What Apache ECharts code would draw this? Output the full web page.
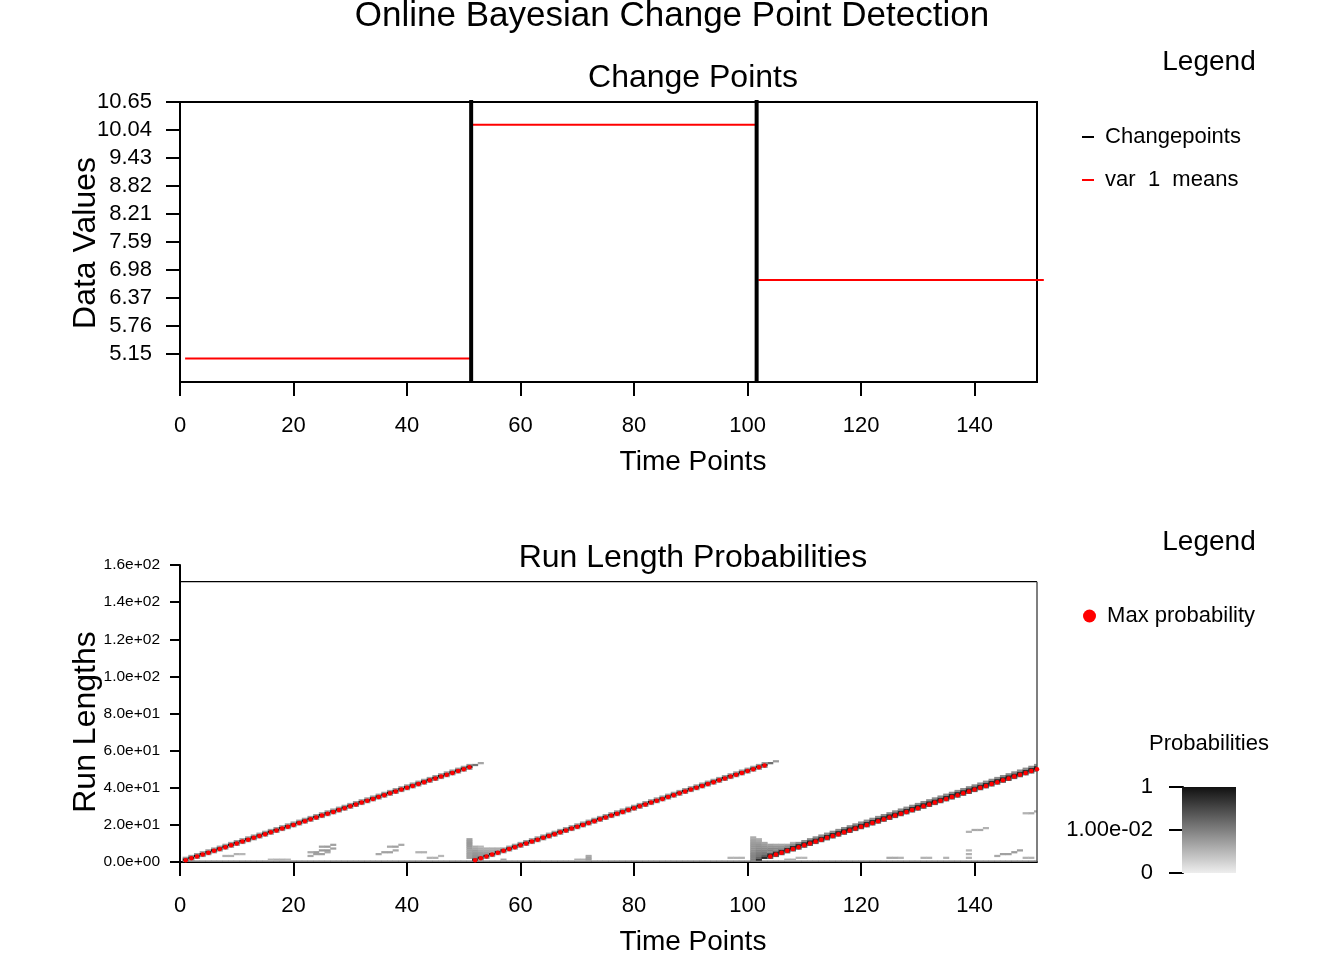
<!DOCTYPE html>
<html><head><meta charset="utf-8">
<script src="https://cdn.jsdelivr.net/npm/echarts@6/dist/echarts.min.js"></script>
<style>html,body{margin:0;padding:0;background:#fff;overflow:hidden}#c{width:1344px;height:960px}</style>
</head><body><div id="c"></div>
<script>
// ---------- data ----------
const timeTicks = [0, 20, 40, 60, 80, 100, 120, 140];
const timeMax = 151;

const dataValueTicks = ['5.15', '5.76', '6.37', '6.98', '7.59', '8.21', '8.82', '9.43', '10.04', '10.65'];
const dataValueMin = 4.5389;
const dataValueMax = 10.65;

const changePoints = [51.3, 101.6];
const meanStarts = [0.9, 51.6, 101.9];
const meanEnds = [51.3, 101.4, 152.2];
const meanValues = [5.05, 10.155, 6.763];

const runLengthTicks = [0, 20, 40, 60, 80, 100, 120, 140, 160];
const runLengthTickLabels = ['0.0e+00', '2.0e+01', '4.0e+01', '6.0e+01', '8.0e+01', '1.0e+02', '1.2e+02', '1.4e+02', '1.6e+02'];
const runLengthAxisMax = 160;
const runLengthMax = 151;

const colorbarTicks = [0, 0.5, 1];
const colorbarTickLabels = ['0', '1.00e-02', '1'];
const probLogMin = -4;

// run length with max probability, for time points 1..151
const maxRunLength = [
  1, 2, 3, 4, 5, 6, 7, 8, 9, 10,
  11, 12, 13, 14, 15, 16, 17, 18, 19, 20,
  21, 22, 23, 24, 25, 26, 27, 28, 29, 30,
  31, 32, 33, 34, 35, 36, 37, 38, 39, 40,
  41, 42, 43, 44, 45, 46, 47, 48, 49, 50,
  51,
  1, 2, 3, 4, 5, 6, 7, 8, 9, 10,
  11, 12, 13, 14, 15, 16, 17, 18, 19, 20,
  21, 22, 23, 24, 25, 26, 27, 28, 29, 30,
  31, 32, 33, 34, 35, 36, 37, 38, 39, 40,
  41, 42, 43, 44, 45, 46, 47, 48, 49, 50,
  51, 52,
  3, 4, 5, 6, 7, 8, 9, 10, 11, 12,
  13, 14, 15, 16, 17, 18, 19, 20, 21, 22,
  23, 24, 25, 26, 27, 28, 29, 30, 31, 32,
  33, 34, 35, 36, 37, 38, 39, 40, 41, 42,
  43, 44, 45, 46, 47, 48, 49, 50
];
// probability of that run length
const maxRunProb = [
  0.97, 0.97, 0.97, 0.97, 0.97, 0.97, 0.97, 0.97, 0.97, 0.97,
  0.97, 0.97, 0.97, 0.97, 0.97, 0.97, 0.97, 0.97, 0.97, 0.97,
  0.97, 0.97, 0.97, 0.97, 0.97, 0.97, 0.97, 0.97, 0.97, 0.97,
  0.97, 0.97, 0.97, 0.97, 0.97, 0.97, 0.97, 0.97, 0.97, 0.97,
  0.97, 0.97, 0.97, 0.97, 0.97, 0.97, 0.97, 0.97, 0.97, 0.97,
  0.9,
  0.6, 0.7, 0.8, 0.85, 0.9, 0.95, 0.95, 0.95, 0.95, 0.95,
  0.95, 0.95, 0.95, 0.95, 0.95, 0.95, 0.95, 0.95, 0.95, 0.95,
  0.95, 0.95, 0.95, 0.95, 0.95, 0.95, 0.95, 0.95, 0.95, 0.95,
  0.95, 0.95, 0.95, 0.95, 0.95, 0.95, 0.95, 0.95, 0.95, 0.95,
  0.95, 0.95, 0.95, 0.95, 0.95, 0.95, 0.95, 0.95, 0.95, 0.7,
  0.5, 0.45,
  0.5, 0.55, 0.6, 0.65, 0.7, 0.75, 0.8, 0.85, 0.85, 0.85,
  0.85, 0.85, 0.85, 0.85, 0.85, 0.85, 0.85, 0.85, 0.85, 0.85,
  0.85, 0.85, 0.85, 0.85, 0.85, 0.85, 0.85, 0.85, 0.85, 0.85,
  0.85, 0.85, 0.85, 0.85, 0.85, 0.85, 0.85, 0.85, 0.85, 0.85,
  0.85, 0.85, 0.85, 0.85, 0.85, 0.85, 0.85, 0.85
];
// probability one run length above the max
const pathAboveProb = [
  0.003, 0.003, 0.003, 0.003, 0.003, 0.003, 0.003, 0.003, 0.003, 0.003,
  0.003, 0.003, 0.003, 0.003, 0.003, 0.003, 0.003, 0.003, 0.003, 0.003,
  0.003, 0.003, 0.003, 0.003, 0.003, 0.003, 0.003, 0.003, 0.003, 0.003,
  0.003, 0.003, 0.003, 0.003, 0.003, 0.003, 0.003, 0.003, 0.003, 0.003,
  0.003, 0.003, 0.003, 0.003, 0.003, 0.003, 0.003, 0.003, 0.003, 0.003,
  0.003,
  0.003, 0.003, 0.003, 0.003, 0.003, 0.003, 0.003, 0.003, 0.003, 0.003,
  0.003, 0.003, 0.003, 0.003, 0.003, 0.003, 0.003, 0.003, 0.003, 0.003,
  0.003, 0.003, 0.003, 0.003, 0.003, 0.003, 0.003, 0.003, 0.003, 0.003,
  0.003, 0.003, 0.003, 0.003, 0.003, 0.003, 0.003, 0.003, 0.003, 0.003,
  0.003, 0.003, 0.003, 0.003, 0.003, 0.003, 0.003, 0.003, 0.003, 0.003,
  0.003, 0.003,
  0.3, 0.3, 0.3, 0.3, 0.3, 0.3, 0.3, 0.3, 0.3, 0.3,
  0.3, 0.3, 0.3, 0.3, 0.3, 0.3, 0.3, 0.3, 0.3, 0.3,
  0.3, 0.3, 0.3, 0.3, 0.3, 0.3, 0.3, 0.3, 0.3, 0.3,
  0.3, 0.3, 0.3, 0.3, 0.3, 0.3, 0.3, 0.3, 0.3, 0.3,
  0.3, 0.3, 0.3, 0.3, 0.3, 0.3, 0.3, 0.3
];
// probability two run lengths above the max
const pathAbove2Prob = [
  0, 0, 0, 0, 0, 0, 0, 0, 0, 0,
  0, 0, 0, 0, 0, 0, 0, 0, 0, 0,
  0, 0, 0, 0, 0, 0, 0, 0, 0, 0,
  0, 0, 0, 0, 0, 0, 0, 0, 0, 0,
  0, 0, 0, 0, 0, 0, 0, 0, 0, 0,
  0,
  0, 0, 0, 0, 0, 0, 0, 0, 0, 0,
  0, 0, 0, 0, 0, 0, 0, 0, 0, 0,
  0, 0, 0, 0, 0, 0, 0, 0, 0, 0,
  0, 0, 0, 0, 0, 0, 0, 0, 0, 0,
  0, 0, 0, 0, 0, 0, 0, 0, 0, 0,
  0, 0,
  0.006, 0.006, 0.006, 0.006, 0.006, 0.006, 0.006, 0.006, 0.006, 0.006,
  0.006, 0.006, 0.006, 0.006, 0.006, 0.006, 0.006, 0.006, 0.006, 0.006,
  0.006, 0.006, 0.006, 0.006, 0.006, 0.006, 0.006, 0.006, 0.006, 0.006,
  0.006, 0.006, 0.006, 0.006, 0.006, 0.006, 0.006, 0.006, 0.006, 0.006,
  0.006, 0.006, 0.006, 0.006, 0.006, 0.006, 0.006, 0.006
];
// probability one run length below the max
const pathBelowProb = [
  0.004, 0.004, 0.004, 0.004, 0.004, 0.004, 0.004, 0.004, 0.004, 0.004,
  0.004, 0.004, 0.004, 0.004, 0.004, 0.004, 0.004, 0.004, 0.004, 0.004,
  0.004, 0.004, 0.004, 0.004, 0.004, 0.004, 0.004, 0.004, 0.004, 0.004,
  0.004, 0.004, 0.004, 0.004, 0.004, 0.004, 0.004, 0.004, 0.004, 0.004,
  0.004, 0.004, 0.004, 0.004, 0.004, 0.004, 0.004, 0.004, 0.004, 0.004,
  0.004,
  0.004, 0.004, 0.004, 0.004, 0.004, 0.004, 0.004, 0.004, 0.004, 0.004,
  0.004, 0.004, 0.004, 0.004, 0.004, 0.004, 0.004, 0.004, 0.004, 0.004,
  0.004, 0.004, 0.004, 0.004, 0.004, 0.004, 0.004, 0.004, 0.004, 0.004,
  0.004, 0.004, 0.004, 0.004, 0.004, 0.004, 0.004, 0.004, 0.004, 0.004,
  0.004, 0.004, 0.004, 0.004, 0.004, 0.004, 0.004, 0.004, 0.004, 0.004,
  0.004, 0.004,
  0.04, 0.04, 0.04, 0.04, 0.04, 0.04, 0.04, 0.04, 0.04, 0.04,
  0.04, 0.04, 0.04, 0.04, 0.04, 0.04, 0.04, 0.04, 0.04, 0.04,
  0.04, 0.04, 0.04, 0.04, 0.04, 0.04, 0.04, 0.04, 0.04, 0.04,
  0.04, 0.04, 0.04, 0.04, 0.04, 0.04, 0.04, 0.04, 0.04, 0.04,
  0.04, 0.04, 0.04, 0.04, 0.04, 0.04, 0.04, 0.04
];
// probability of run length 0 at each time point
const runZeroProb = [
  0.01, 0.01, 0.01, 0.01, 0.01, 0.01, 0.01, 0.01, 0.01, 0.01,
  0.01, 0.01, 0.01, 0.01, 0.01, 0.01, 0.01, 0.01, 0.01, 0.01,
  0.01, 0.01, 0.01, 0.01, 0.01, 0.01, 0.01, 0.01, 0.01, 0.01,
  0.01, 0.01, 0.01, 0.01, 0.01, 0.01, 0.01, 0.01, 0.01, 0.01,
  0.01, 0.01, 0.01, 0.01, 0.01, 0.01, 0.01, 0.01, 0.01, 0.01,
  0.01, 0.01, 0.01, 0.01, 0.01, 0.01, 0.01, 0.01, 0.01, 0.01,
  0.01, 0.01, 0.01, 0.01, 0.01, 0.01, 0.01, 0.01, 0.01, 0.01,
  0.01, 0.01, 0.01, 0.01, 0.01, 0.01, 0.01, 0.01, 0.01, 0.01,
  0.01, 0.01, 0.01, 0.01, 0.01, 0.01, 0.01, 0.01, 0.01, 0.01,
  0.01, 0.01, 0.01, 0.01, 0.01, 0.01, 0.01, 0.01, 0.01, 0.01,
  0.01, 0.01, 0.01, 0.01, 0.01, 0.01, 0.01, 0.01, 0.01, 0.01,
  0.01, 0.01, 0.01, 0.01, 0.01, 0.01, 0.01, 0.01, 0.01, 0.01,
  0.01, 0.01, 0.01, 0.01, 0.01, 0.01, 0.01, 0.01, 0.01, 0.01,
  0.01, 0.01, 0.01, 0.01, 0.01, 0.01, 0.01, 0.01, 0.01, 0.01,
  0.01, 0.01, 0.01, 0.01, 0.01, 0.01, 0.01, 0.01, 0.01, 0.01,
  0.01
];
// other visible cells [time, run length, probability]
const extraCells = [
  [8, 3, 0.0012], [9, 3, 0.0012], [10, 4, 0.0012], [11, 4, 0.001],
  [16, 1, 0.001], [17, 1, 0.0012], [18, 1, 0.0012], [19, 1, 0.001],
  [23, 3, 0.0018], [24, 4, 0.0025], [25, 4, 0.0025], [26, 5, 0.0018],
  [23, 5, 0.0018], [24, 5, 0.003], [25, 6, 0.0035], [26, 6, 0.0035], [27, 7, 0.0025],
  [25, 8, 0.0025], [26, 8, 0.003], [27, 9, 0.0025],
  [35, 4, 0.0018], [36, 5, 0.0025], [37, 5, 0.0025], [38, 6, 0.0018],
  [37, 8, 0.0018], [38, 8, 0.0025], [39, 9, 0.0018],
  [42, 5, 0.0012], [43, 5, 0.0012], [44, 2, 0.0012], [45, 2, 0.0012], [46, 3, 0.001],
  [51, 2, 0.0025], [51, 3, 0.0025], [51, 4, 0.0025], [51, 5, 0.0025], [51, 6, 0.0025], [51, 7, 0.003],
  [51, 8, 0.0035], [51, 9, 0.0035], [51, 10, 0.0035], [51, 11, 0.003], [51, 12, 0.0025],
  [52, 52, 0.015], [53, 53, 0.002],
  [52, 2, 0.006], [52, 3, 0.005], [52, 4, 0.004], [52, 5, 0.0035], [52, 6, 0.003], [52, 7, 0.002], [52, 8, 0.0015],
  [53, 3, 0.004], [53, 4, 0.0035], [53, 5, 0.003], [53, 6, 0.002], [53, 7, 0.0015], [53, 8, 0.001],
  [54, 4, 0.0035], [54, 5, 0.003], [54, 6, 0.002], [54, 7, 0.0015],
  [55, 5, 0.003], [55, 6, 0.002], [55, 7, 0.0015],
  [56, 6, 0.002], [56, 7, 0.0015], [57, 7, 0.0012], [57, 1, 0.002],
  [70, 1, 0.0012], [71, 1, 0.0012], [72, 1, 0.0025], [72, 2, 0.0025], [72, 3, 0.0018],
  [97, 2, 0.0012], [98, 2, 0.0012], [99, 2, 0.0012],
  [101, 1, 0.01], [101, 2, 0.008], [101, 3, 0.008], [101, 4, 0.007], [101, 5, 0.006], [101, 6, 0.005],
  [101, 7, 0.0045], [101, 8, 0.004], [101, 9, 0.0035], [101, 10, 0.003], [101, 11, 0.0025], [101, 12, 0.002], [101, 13, 0.0015],
  [102, 1, 0.3], [102, 2, 0.03], [102, 3, 0.015], [102, 4, 0.012], [102, 5, 0.01], [102, 6, 0.008],
  [102, 7, 0.006], [102, 8, 0.005], [102, 9, 0.004], [102, 10, 0.003], [102, 11, 0.002], [102, 12, 0.0015],
  [103, 2, 0.4], [103, 3, 0.05], [103, 4, 0.015], [103, 5, 0.012], [103, 6, 0.008], [103, 7, 0.006],
  [103, 8, 0.0045], [103, 9, 0.003], [103, 10, 0.002],
  [104, 53, 0.02], [105, 54, 0.003],
  [104, 6, 0.01], [104, 7, 0.007], [104, 8, 0.004], [104, 9, 0.0025],
  [105, 7, 0.007], [105, 8, 0.004], [105, 9, 0.002],
  [106, 8, 0.004], [106, 9, 0.002], [107, 9, 0.002], [108, 10, 0.0012],
  [107, 1, 0.0012], [108, 1, 0.0012], [109, 2, 0.001], [110, 2, 0.001],
  [125, 2, 0.0018], [126, 2, 0.0018], [127, 2, 0.0012], [131, 2, 0.0012], [132, 2, 0.0012], [135, 2, 0.0012],
  [139, 16, 0.0012], [140, 17, 0.0018], [141, 17, 0.0018], [142, 18, 0.0012],
  [139, 2, 0.0012], [139, 4, 0.0012], [139, 6, 0.001],
  [144, 3, 0.0018], [145, 4, 0.0025], [146, 4, 0.0025], [147, 5, 0.003], [148, 6, 0.0025],
  [149, 26, 0.0012], [150, 26, 0.0018], [151, 27, 0.0018], [149, 2, 0.0012], [150, 2, 0.0012]
];

// ---------- build ----------
const FONT = "'Liberation Sans', Arial, Helvetica, sans-serif";
const dataValueTickValues = dataValueTicks.map(Number);

function probToGray(p) {
  const d = Math.min(1, Math.max(0, (Math.log10(p) - probLogMin) / (0 - probLogMin)));
  return Math.round(238 - d * 221);
}
function grayCss(p) { const g = probToGray(p); return 'rgb(' + g + ',' + g + ',' + g + ')'; }

const cellMap = new Map();
function addCell(t, r, p) {
  if (!(p > 0) || r < 0) return;
  const k = t + ',' + r;
  const prev = cellMap.get(k);
  if (!prev || prev[2] < p) cellMap.set(k, [t, r, p]);
}
runZeroProb.forEach((p, i) => addCell(i + 1, 0, p));
extraCells.forEach(c => addCell(c[0], c[1], c[2]));
maxRunLength.forEach((r, i) => {
  const t = i + 1;
  addCell(t, r - 1, pathBelowProb[i]);
  addCell(t, r + 1, pathAboveProb[i]);
  addCell(t, r + 2, pathAbove2Prob[i]);
  addCell(t, r, maxRunProb[i]);
});
const heatCells = Array.from(cellMap.values());
const maxPoints = maxRunLength.map((r, i) => [i + 1, r]);
const meanSegments = meanValues.map((v, i) => [meanStarts[i], meanEnds[i], v]);

const axisBase = (extra) => Object.assign({
  type: 'value',
  splitLine: { show: false },
  axisLine: { show: true, onZero: false, lineStyle: { color: '#000', width: 2 } }
}, extra);

const option = {
  animation: false,
  backgroundColor: '#fff',
  textStyle: { fontFamily: FONT },
  grid: [
    { left: 180, top: 102, width: 857, height: 280, show: true, borderColor: '#000', borderWidth: 2, outerBoundsMode: 'none' },
    { left: 180, top: 565, width: 857, height: 297, outerBoundsMode: 'none' },
    { left: 1183, top: 787, width: 53, height: 86, outerBoundsMode: 'none' }
  ],
  xAxis: [
    axisBase({
      gridIndex: 0, min: 0, max: timeMax,
      axisTick: { show: true, length: 14, customValues: timeTicks, lineStyle: { color: '#000', width: 2 } },
      axisLabel: { customValues: timeTicks, color: '#000', fontSize: 22, fontFamily: FONT, margin: 33 }
    }),
    axisBase({
      gridIndex: 1, min: 0, max: timeMax,
      axisTick: { show: true, length: 14, customValues: timeTicks, lineStyle: { color: '#000', width: 2 } },
      axisLabel: { customValues: timeTicks, color: '#000', fontSize: 22, fontFamily: FONT, margin: 33 }
    }),
    { type: 'value', gridIndex: 2, min: 0, max: 1, show: false }
  ],
  yAxis: [
    axisBase({
      gridIndex: 0, min: dataValueMin, max: dataValueMax,
      axisTick: { show: true, length: 14, customValues: dataValueTickValues, lineStyle: { color: '#000', width: 2 } },
      axisLabel: {
        customValues: dataValueTickValues, color: '#000', fontSize: 22, fontFamily: FONT, margin: 28, padding: [10, 0, 0, 0],
        formatter: v => { const i = dataValueTickValues.findIndex(x => Math.abs(x - v) < 1e-6); return i >= 0 ? dataValueTicks[i] : ''; }
      }
    }),
    axisBase({
      gridIndex: 1, min: 0, max: runLengthAxisMax,
      axisTick: { show: true, length: 10, customValues: runLengthTicks, lineStyle: { color: '#000', width: 2 } },
      axisLabel: {
        customValues: runLengthTicks, color: '#000', fontSize: 15.5, fontFamily: FONT, margin: 20, padding: [4, 0, 0, 0],
        formatter: v => { const i = runLengthTicks.indexOf(Math.round(v)); return i >= 0 ? runLengthTickLabels[i] : ''; }
      }
    }),
    axisBase({
      gridIndex: 2, min: 0, max: 1,
      axisTick: { show: true, length: 14, customValues: colorbarTicks, lineStyle: { color: '#000', width: 2 } },
      axisLabel: {
        customValues: colorbarTicks, color: '#000', fontSize: 22, fontFamily: FONT, margin: 30, padding: [8, 0, 0, 0],
        formatter: v => { const i = colorbarTicks.findIndex(x => Math.abs(x - v) < 1e-6); return i >= 0 ? colorbarTickLabels[i] : ''; }
      }
    })
  ],
  legend: [
    {
      data: [
        { name: 'Changepoints', icon: 'rect', itemStyle: { color: '#000', opacity: 1 } },
        { name: 'var  1  means', icon: 'rect', itemStyle: { color: '#ff0000', opacity: 1 } }
      ],
      orient: 'vertical', left: 1077, top: 121, itemWidth: 12, itemHeight: 2, itemGap: 21,
      selectedMode: false, formatter: n => ' ' + n,
      textStyle: { color: '#000', fontSize: 22, fontFamily: FONT }
    },
    {
      data: [{ name: 'Max probability', icon: 'circle', itemStyle: { color: '#ff0000', opacity: 1 } }],
      orient: 'vertical', left: 1078, top: 600, itemWidth: 13, itemHeight: 13,
      selectedMode: false, formatter: n => ' ' + n,
      textStyle: { color: '#000', fontSize: 22, fontFamily: FONT }
    }
  ],
  graphic: [
    { type: 'text', x: 672, y: 16, style: { text: 'Online Bayesian Change Point Detection', font: '35px ' + FONT, fill: '#000', align: 'center', verticalAlign: 'middle' } },
    { type: 'text', x: 693, y: 78, style: { text: 'Change Points', font: '32px ' + FONT, fill: '#000', align: 'center', verticalAlign: 'middle' } },
    { type: 'text', x: 693, y: 462, style: { text: 'Time Points', font: '28px ' + FONT, fill: '#000', align: 'center', verticalAlign: 'middle' } },
    { type: 'text', x: 86, y: 243, rotation: Math.PI / 2, style: { text: 'Data Values', font: '32px ' + FONT, fill: '#000', align: 'center', verticalAlign: 'middle' } },
    { type: 'text', x: 693, y: 558, style: { text: 'Run Length Probabilities', font: '32px ' + FONT, fill: '#000', align: 'center', verticalAlign: 'middle' } },
    { type: 'text', x: 693, y: 942, style: { text: 'Time Points', font: '28px ' + FONT, fill: '#000', align: 'center', verticalAlign: 'middle' } },
    { type: 'text', x: 86, y: 722, rotation: Math.PI / 2, style: { text: 'Run Lengths', font: '32px ' + FONT, fill: '#000', align: 'center', verticalAlign: 'middle' } },
    { type: 'text', x: 1209, y: 62, style: { text: 'Legend', font: '28px ' + FONT, fill: '#000', align: 'center', verticalAlign: 'middle' } },
    { type: 'text', x: 1209, y: 542, style: { text: 'Legend', font: '28px ' + FONT, fill: '#000', align: 'center', verticalAlign: 'middle' } },
    { type: 'text', x: 1209, y: 744, style: { text: 'Probabilities', font: '22px ' + FONT, fill: '#000', align: 'center', verticalAlign: 'middle' } }
  ],
  series: [
    {
      name: 'Changepoints', type: 'custom', xAxisIndex: 0, yAxisIndex: 0, z: 5, clip: false,
      itemStyle: { color: '#000' },
      dimensions: ['t'], encode: { x: 0 },
      data: changePoints.map(c => [c]),
      renderItem: (params, api) => {
        const x = api.coord([api.value(0), dataValueMin])[0];
        const cs = params.coordSys;
        return { type: 'line', shape: { x1: x, y1: cs.y - 2, x2: x, y2: cs.y + cs.height + 1 }, style: { stroke: '#000', lineWidth: 4 } };
      }
    },
    {
      name: 'var  1  means', type: 'custom', xAxisIndex: 0, yAxisIndex: 0, z: 4, clip: false,
      itemStyle: { color: '#ff0000' },
      dimensions: ['start', 'end', 'mean'], encode: { x: [0, 1], y: 2 },
      data: meanSegments,
      renderItem: (params, api) => {
        const a = api.coord([api.value(0), api.value(2)]);
        const b = api.coord([api.value(1), api.value(2)]);
        return { type: 'line', shape: { x1: a[0], y1: a[1], x2: b[0], y2: b[1] }, style: { stroke: '#ff0000', lineWidth: 2 } };
      }
    },
    {
      name: 'Run length probabilities', type: 'custom', xAxisIndex: 1, yAxisIndex: 1, z: 1, clip: true,
      dimensions: ['t', 'r', 'p'], encode: { x: 0, y: 1 },
      data: heatCells,
      renderItem: (params, api) => {
        const t = api.value(0), r = api.value(1), p = api.value(2);
        const a = api.coord([t - 0.5, r + 0.75]);
        const b = api.coord([t + 0.5, r - 0.25]);
        return { type: 'rect', shape: { x: a[0] - 0.2, y: a[1] - 0.2, width: b[0] - a[0] + 0.4, height: b[1] - a[1] + 0.4 },
          style: { fill: grayCss(p) } };
      }
    },
    {
      name: 'frame', type: 'custom', xAxisIndex: 1, yAxisIndex: 1, z: 3, clip: false, silent: true,
      dimensions: ['t', 'r'], encode: { x: 0, y: 1 },
      data: [[0, 0]],
      renderItem: (params, api) => {
        const tl = api.coord([0, runLengthMax]);
        const tr = api.coord([timeMax, runLengthMax]);
        const br = api.coord([timeMax, 0]);
        return { type: 'group', children: [
          { type: 'line', shape: { x1: tl[0], y1: tl[1], x2: tr[0], y2: tr[1] }, style: { stroke: '#000', lineWidth: 1.2 } },
          { type: 'line', shape: { x1: tr[0], y1: tr[1], x2: br[0], y2: br[1] }, style: { stroke: '#555', lineWidth: 1.5 } }
        ] };
      }
    },
    {
      name: 'Max probability', type: 'scatter', xAxisIndex: 1, yAxisIndex: 1, z: 6,
      symbol: 'circle', symbolSize: 4.5, itemStyle: { color: '#ff0000', opacity: 1 },
      data: maxPoints
    },
    {
      name: 'colorbar', type: 'custom', xAxisIndex: 2, yAxisIndex: 2, z: 1, silent: true,
      dimensions: ['x', 'y'], encode: { x: 0, y: 1 },
      data: [[0, 0]],
      renderItem: (params, api) => {
        const a = api.coord([0, 1]);
        const b = api.coord([1, 0]);
        return { type: 'rect', shape: { x: a[0] - 1, y: a[1], width: b[0] - a[0] + 1, height: b[1] - a[1] },
          style: { fill: new echarts.graphic.LinearGradient(0, 0, 0, 1, [
            { offset: 0, color: grayCss(1) },
            { offset: 1, color: grayCss(Math.pow(10, probLogMin)) }
          ]) } };
      }
    }
  ]
};

const chart = echarts.init(document.getElementById('c'));
chart.setOption(option);
</script>
</body></html>
